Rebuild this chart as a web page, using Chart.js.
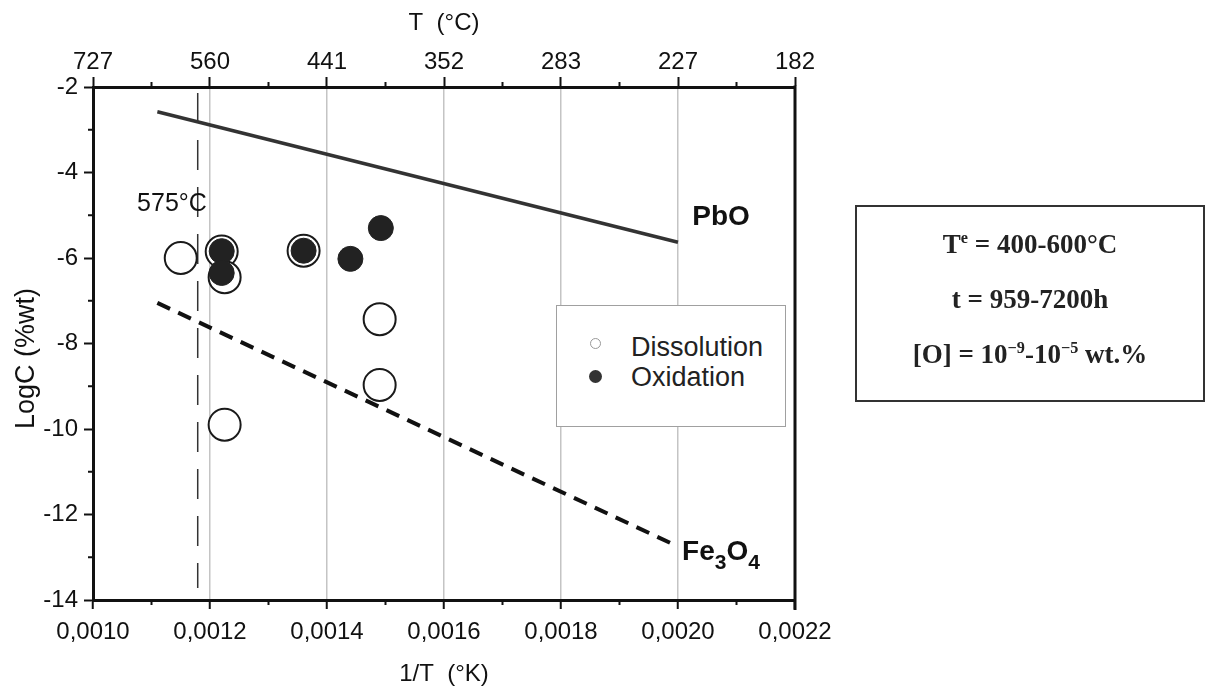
<!DOCTYPE html>
<html>
<head>
<meta charset="utf-8">
<script src="https://cdn.jsdelivr.net/npm/chart.js@4.4.1/dist/chart.umd.min.js"></script>
<style>
  html, body { margin: 0; padding: 0; background: #fff; }
  #wrap { position: relative; width: 1208px; height: 694px; font-family: "Liberation Sans", Arial, sans-serif; }
  #plot { position: absolute; left: 0; top: 0; }
  #legend {
    position: absolute; left: 556px; top: 305px; width: 230px; height: 122px;
    box-sizing: border-box; border: 1.5px solid #a0a0a0; background: #fff;
  }
  #legend .row { position: absolute; left: 74px; font-size: 27px; color: #222; line-height: 30px; }
  #legend .dot { position: absolute; border-radius: 50%; box-sizing: border-box; }
  #note {
    position: absolute; left: 855px; top: 205px; width: 350px; height: 197px;
    box-sizing: border-box; border: 2px solid #333; padding-top: 10px;
    font-family: "Liberation Serif", "Times New Roman", serif; font-weight: bold;
    font-size: 27px; color: #222; text-align: center;
  }
  #note div { height: 55px; line-height: 55px; }
  #note sup { font-size: 60%; line-height: 0; vertical-align: 0.6em; }
</style>
</head>
<body>
<div id="wrap">
  <canvas id="plot" width="1208" height="694"></canvas>
  <div id="legend">
    <span class="dot" style="left:33px;top:32px;width:11px;height:11px;border:1.5px solid #999;"></span>
    <span class="row" style="top:26px;">Dissolution</span>
    <span class="dot" style="left:32px;top:64px;width:13px;height:13px;background:#333;"></span>
    <span class="row" style="top:56px;">Oxidation</span>
  </div>
  <div id="note">
    <div>T<sup>e</sup> = 400-600°C</div>
    <div>t = 959-7200h</div>
    <div>[O] = 10<sup>−9</sup>-10<sup>−5</sup> wt.%</div>
  </div>
</div>
<script>
// axis ticks
const xTickValues = [0.0010, 0.0012, 0.0014, 0.0016, 0.0018, 0.0020, 0.0022];
const xTickLabels = ['0,0010', '0,0012', '0,0014', '0,0016', '0,0018', '0,0020', '0,0022'];
const tempLabels = ['727', '560', '441', '352', '283', '227', '182'];
const xMinorTicks = [0.0011, 0.0013, 0.0015, 0.0017, 0.0019, 0.0021];
const yTickValues = [-14, -12, -10, -8, -6, -4, -2];
const yMinorTicks = [-13, -11, -9, -7, -5, -3];

// measured points
const dissolution = [
  { x: 0.00115, y: -6.0 },
  { x: 0.00122, y: -5.85 },
  { x: 0.001225, y: -6.45 },
  { x: 0.001225, y: -9.9 },
  { x: 0.00136, y: -5.83 },
  { x: 0.00149, y: -7.43 },
  { x: 0.00149, y: -8.97 }
];
const oxidation = [
  { x: 0.00122, y: -5.84 },
  { x: 0.00122, y: -6.35 },
  { x: 0.00136, y: -5.83 },
  { x: 0.00144, y: -6.02 },
  { x: 0.001492, y: -5.3 }
];

// solubility lines and the 575°C boundary
const pboLine = [{ x: 0.00111, y: -2.58 }, { x: 0.0020, y: -5.63 }];
const fe3o4Line = [{ x: 0.00111, y: -7.05 }, { x: 0.0020, y: -12.75 }];
const line575 = [{ x: 0.001179, y: -2.14 }, { x: 0.001179, y: -13.72 }];

const tickFont = { family: "'Liberation Sans', Arial, sans-serif", size: 24 };

const extras = {
  id: 'extras',
  afterDraw(chart) {
    const { ctx, chartArea } = chart;
    const xs = chart.scales.x, ys = chart.scales.y;
    ctx.save();
    ctx.strokeStyle = '#111';
    ctx.lineWidth = 2;
    // minor ticks
    xMinorTicks.forEach(v => {
      const px = xs.getPixelForValue(v);
      ctx.beginPath();
      ctx.moveTo(px, chartArea.bottom); ctx.lineTo(px, chartArea.bottom + 5);
      ctx.moveTo(px, chartArea.top); ctx.lineTo(px, chartArea.top - 5);
      ctx.stroke();
    });
    yMinorTicks.forEach(v => {
      const py = ys.getPixelForValue(v);
      ctx.beginPath();
      ctx.moveTo(chartArea.left, py); ctx.lineTo(chartArea.left - 5, py);
      ctx.stroke();
    });
    // right frame
    ctx.lineWidth = 3;
    ctx.beginPath();
    ctx.moveTo(chartArea.right, chartArea.top - 1.5);
    ctx.lineTo(chartArea.right, chartArea.bottom + 10);
    ctx.stroke();

    // labels
    ctx.fillStyle = '#111';
    ctx.textAlign = 'center';
    ctx.textBaseline = 'middle';
    ctx.font = "25px 'Liberation Sans', Arial, sans-serif";
    ctx.fillText('575°C', xs.getPixelForValue(0.001135), ys.getPixelForValue(-4.74));

    ctx.font = "bold 28px 'Liberation Sans', Arial, sans-serif";
    ctx.fillText('PbO', xs.getPixelForValue(0.0020735), ys.getPixelForValue(-5.04));

    ctx.textAlign = 'left';
    ctx.textBaseline = 'alphabetic';
    let px = xs.getPixelForValue(0.002007);
    const py = ys.getPixelForValue(-13.06);
    const parts = [['Fe', 28, 0], ['3', 21, 9], ['O', 28, 0], ['4', 21, 9]];
    parts.forEach(([txt, size, drop]) => {
      ctx.font = `bold ${size}px 'Liberation Sans', Arial, sans-serif`;
      ctx.fillText(txt, px, py + drop);
      px += ctx.measureText(txt).width;
    });
    ctx.restore();
  }
};

new Chart(document.getElementById('plot'), {
  type: 'scatter',
  data: {
    datasets: [
      {
        label: 'Oxidation', data: oxidation, order: 0,
        pointRadius: 12.5, pointBackgroundColor: '#222', pointBorderColor: '#222', pointBorderWidth: 1
      },
      {
        label: 'Dissolution', data: dissolution, order: 1,
        pointRadius: 16, pointBackgroundColor: '#fff', pointBorderColor: '#1a1a1a', pointBorderWidth: 2
      },
      {
        type: 'line', label: 'PbO', data: pboLine, order: 2,
        borderColor: '#333', borderWidth: 3.5, pointRadius: 0, fill: false
      },
      {
        type: 'line', label: 'Fe3O4', data: fe3o4Line, order: 2,
        borderColor: '#111', borderWidth: 4, borderDash: [14, 9], pointRadius: 0, fill: false
      },
      {
        type: 'line', label: '575', data: line575, order: 3,
        borderColor: '#333', borderWidth: 1.5, borderDash: [30, 17], pointRadius: 0, fill: false
      }
    ]
  },
  options: {
    responsive: false,
    devicePixelRatio: 1,
    animation: false,
    events: [],
    layout: { padding: { left: 0, right: 413, top: 0, bottom: 0 } },
    plugins: { legend: { display: false }, tooltip: { enabled: false } },
    scales: {
      x: {
        type: 'linear', position: 'bottom', min: 0.0010, max: 0.0022,
        afterBuildTicks: s => { s.ticks = xTickValues.map(v => ({ value: v })); },
        afterFit: s => { s.height = 94; },
        ticks: {
          autoSkip: false, maxRotation: 0, padding: 9, color: '#111', font: tickFont,
          callback: (v, i) => xTickLabels[i]
        },
        grid: {
          drawOnChartArea: true, tickLength: 9, tickWidth: 2, tickColor: '#111', lineWidth: 1.5,
          color: c => (c.index === 0 || c.index === xTickValues.length - 1) ? 'rgba(0,0,0,0)' : '#c4c4c4'
        },
        border: { width: 3, color: '#111' },
        title: {
          display: true, text: '1/T  (°K)', color: '#111', font: tickFont,
          padding: { top: 0, bottom: 5 }
        }
      },
      xTop: {
        type: 'linear', position: 'top', min: 0.0010, max: 0.0022,
        afterBuildTicks: s => { s.ticks = xTickValues.map(v => ({ value: v })); },
        afterFit: s => { s.height = 87; },
        ticks: {
          autoSkip: false, maxRotation: 0, padding: 0, color: '#111', font: tickFont,
          callback: (v, i) => tempLabels[i]
        },
        grid: { drawOnChartArea: false, tickLength: 10, tickWidth: 2, tickColor: '#111' },
        border: { width: 3, color: '#111' },
        title: {
          display: true, text: 'T  (°C)', color: '#111', font: tickFont,
          padding: { top: 9, bottom: 0 }
        }
      },
      y: {
        type: 'linear', position: 'left', min: -14, max: -2,
        afterBuildTicks: s => { s.ticks = yTickValues.map(v => ({ value: v })); },
        afterFit: s => { s.width = 93; },
        ticks: { padding: 6, color: '#111', font: tickFont, callback: v => String(v) },
        grid: { drawOnChartArea: false, tickLength: 9, tickWidth: 2, tickColor: '#111' },
        border: { width: 3, color: '#111' },
        title: {
          display: true, text: 'LogC (%wt)\u00a0\u00a0\u00a0\u00a0', color: '#111',
          font: { family: "'Liberation Sans', Arial, sans-serif", size: 27 },
          padding: { top: 10, bottom: 0 }
        }
      }
    }
  },
  plugins: [extras]
});
</script>
</body>
</html>
